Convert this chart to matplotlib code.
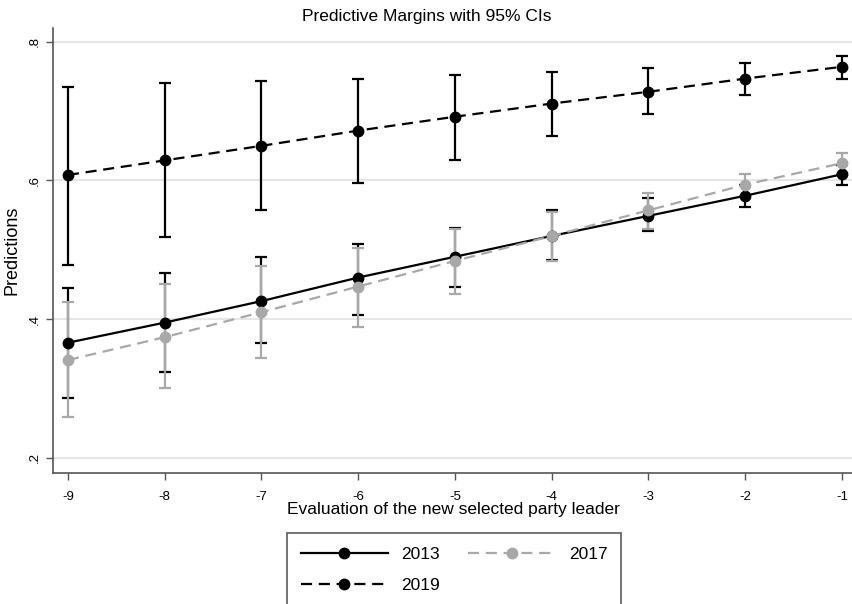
import matplotlib
matplotlib.use("Agg")
import matplotlib.pyplot as plt
from matplotlib.ticker import FuncFormatter
from matplotlib.lines import Line2D

plt.rcParams['font.family'] = ['Liberation Sans', 'DejaVu Sans']
plt.rcParams['axes.unicode_minus'] = False

x = [-9, -8, -7, -6, -5, -4, -3, -2, -1]

y2013 = [0.366, 0.395, 0.426, 0.460, 0.490, 0.520, 0.549, 0.578, 0.609]
lo2013 = [0.286, 0.324, 0.365, 0.406, 0.447, 0.486, 0.527, 0.562, 0.594]
hi2013 = [0.445, 0.466, 0.489, 0.509, 0.531, 0.557, 0.575, 0.594, 0.623]

y2017 = [0.341, 0.374, 0.410, 0.447, 0.484, 0.520, 0.557, 0.594, 0.625]
lo2017 = [0.259, 0.300, 0.344, 0.389, 0.436, 0.484, 0.530, 0.578, 0.610]
hi2017 = [0.424, 0.451, 0.477, 0.503, 0.530, 0.555, 0.582, 0.610, 0.640]

y2019 = [0.608, 0.629, 0.650, 0.672, 0.692, 0.711, 0.728, 0.747, 0.764]
lo2019 = [0.478, 0.519, 0.557, 0.596, 0.630, 0.664, 0.696, 0.724, 0.747]
hi2019 = [0.735, 0.740, 0.743, 0.747, 0.752, 0.757, 0.762, 0.769, 0.779]

years = ['2013', '2017', '2019']
yticks = [0.2, 0.4, 0.6, 0.8]
xticks = [-9, -8, -7, -6, -5, -4, -3, -2, -1]

GRAY = '#a8a8a8'
fig = plt.figure(figsize=(8.53, 6.04), dpi=100)
ax = fig.add_axes([53/853, 1-473/604, 1-53/853, (473-28)/604])

for yv in yticks:
    ax.axhline(yv, color='#e6e6e6', lw=1.5, zorder=0)

def err(yv, lo, hi):
    return [[a-b for a, b in zip(yv, lo)], [b-a for a, b in zip(yv, hi)]]

ax.errorbar(x, y2013, yerr=err(y2013, lo2013, hi2013), fmt='none', ecolor='black',
            elinewidth=1.6, capsize=4, capthick=1.6, zorder=2)
ax.errorbar(x, y2017, yerr=err(y2017, lo2017, hi2017), fmt='none', ecolor=GRAY,
            elinewidth=1.6, capsize=4, capthick=1.6, zorder=2)
ax.errorbar(x, y2019, yerr=err(y2019, lo2019, hi2019), fmt='none', ecolor='black',
            elinewidth=1.6, capsize=4, capthick=1.6, zorder=2)

ax.plot(x, y2013, color='black', lw=1.6, marker='o', ms=7.5, zorder=3)
ax.plot(x, y2017, color=GRAY, lw=1.6, ls=(0, (5, 3)), marker='o', ms=7.5, zorder=4)
ax.plot(x, y2019, color='black', lw=1.6, ls=(0, (5, 3)), marker='o', ms=7.5, zorder=3)

ax.set_xlim(-9.155, -0.886)
ax.set_ylim(0.178, 0.82)
ax.set_xticks(xticks)
ax.set_yticks(yticks)
ax.yaxis.set_major_formatter(FuncFormatter(lambda v, p: ('%.1f' % v).lstrip('0')))
ax.tick_params(axis='y', labelrotation=90, labelsize=9.5, length=5, color='#555555', width=1)
ax.tick_params(axis='x', labelsize=9.5, length=5, color='#555555', width=1, pad=8)
for lab in ax.get_yticklabels():
    lab.set_va('center')
for s in ['top', 'right']:
    ax.spines[s].set_visible(False)
for s in ['left', 'bottom']:
    ax.spines[s].set_color('#555555')
    ax.spines[s].set_linewidth(1.2)

fig.text(0.5, 1-16/604, 'Predictive Margins with 95% CIs', fontsize=12.5,
         ha='center', va='center')
ax.set_ylabel('Predictions', fontsize=13, labelpad=6)
ax.set_xlabel('Evaluation of the new selected party leader', fontsize=12.5, labelpad=-1)

h2013 = Line2D([], [], color='black', lw=1.6, marker='o', ms=7.5)
h2017 = Line2D([], [], color=GRAY, lw=1.6, ls=(0, (5, 3)), marker='o', ms=7.5)
h2019 = Line2D([], [], color='black', lw=1.6, ls=(0, (5, 3)), marker='o', ms=7.5)
# ncol=2 fills column-wise: row1 = 2013, 2017; row2 = 2019
leg = fig.legend([h2013, h2019, h2017], [years[0], years[2], years[1]],
                 loc='upper left', bbox_to_anchor=(287/853, 1-533/604),
                 borderaxespad=0, ncol=2, fontsize=12.5, frameon=True, fancybox=False,
                 edgecolor='#333333', handlelength=5.0, handletextpad=0.8,
                 columnspacing=1.6, borderpad=0.8, labelspacing=0.9)
leg.get_frame().set_linewidth(1.2)

fig.savefig('out.png', dpi=100)
